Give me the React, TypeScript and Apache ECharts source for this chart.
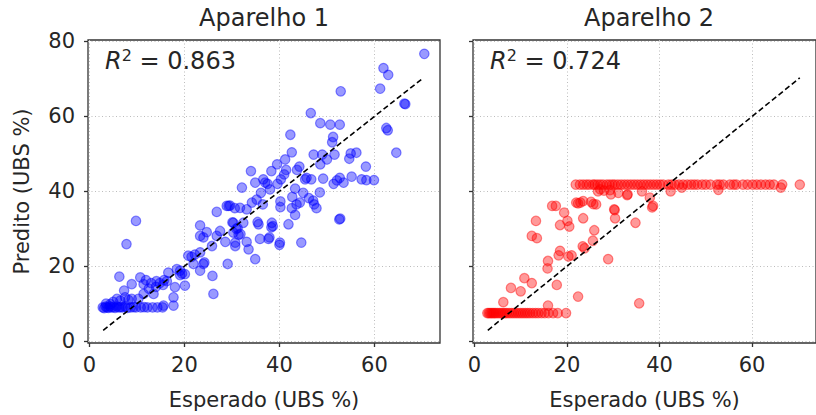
import React, { useEffect, useRef } from "react";
import * as echarts from "echarts";

const titles = ["Aparelho 1", "Aparelho 2"];
const r2Values = ["0.863", "0.724"];
const xAxisName = "Esperado (UBS %)";
const yAxisName = "Predito (UBS %)";
const xTicks = [0, 20, 40, 60];
const yTicks = [0, 20, 40, 60, 80];
const identityLine = [
  [2.9, 2.9],
  [70.3, 70.3],
];

// Aparelho 1: [esperado, predito]
const aparelho1 = [
  [2.8, 9], [3.1, 8.8], [3.4, 9.2], [3.7, 9], [4, 8.9], [4.3, 9.3], [4.6, 9], [5, 9.1],
  [5.4, 8.9], [5.8, 9.2], [6.2, 9], [6.6, 9.1], [7, 9], [7.5, 9.2], [8, 8.9], [8.7, 9],
  [9.3, 9.1], [9.8, 9], [10.8, 9], [11.5, 9.1], [12.2, 9], [13.3, 9], [14.3, 9], [15.4, 9],
  [4.4, 9.9], [3.5, 10], [5, 10.5], [5.8, 11.3], [6.5, 10.8], [7.5, 11.7], [8.2, 11], [8.9, 11.3],
  [10.3, 11.3], [11.4, 12.6], [13.5, 12.6], [7.3, 13.5], [8.9, 15.2], [6.3, 17.2], [10.7, 17],
  [11.4, 15.2], [11.9, 16.3], [13, 15.5], [14.1, 16], [14.8, 15.5], [15.7, 16.3], [16.3, 16],
  [12.5, 14], [14, 14.5], [15.5, 15], [17.7, 11.7], [17.7, 9.5], [15.6, 9.5], [16.6, 18.3],
  [18, 14.4], [20.1, 14.8], [18.4, 19.2], [20.1, 17.9], [19.1, 17.6], [19.1, 18.8], [19.5, 18],
  [20.8, 22.8], [21.5, 22.5], [21.9, 20.6], [22.2, 23.1], [23.3, 23.7], [23.3, 18.8], [24, 20.6],
  [24.2, 21], [23.3, 30.9], [23.3, 28.1], [24, 27.7], [24.7, 29.1], [25.9, 17.4], [26.1, 12.6],
  [25.8, 25.4], [26.8, 28.1], [27.5, 29.4], [26.8, 34.5], [28.6, 26.5], [29.1, 20.6], [29.3, 36.1],
  [30.3, 31.6], [30.3, 29], [30.7, 26.3], [30.7, 25.4], [31.2, 30.2], [31.4, 28.4], [31.7, 35.6],
  [32.4, 31.6], [33.1, 35.2], [33.1, 26.5], [33.5, 24.5], [34.9, 21.9], [35.6, 31.2], [35.9, 27.3],
  [37.9, 27.7], [38.4, 31.6], [38.6, 30.7], [40.1, 26.3], [41.9, 31.2], [44.6, 26.3], [52.6, 32.5],
  [9.8, 32.1], [7.8, 25.9],
  [28.9, 36.1], [29.6, 36.2], [30.1, 31.7], [30.6, 35.5], [30.9, 30], [31.8, 28.6], [32.1, 41],
  [34, 45.4], [34.2, 37], [34.9, 42.3], [35.4, 31.8], [36.1, 39.6], [36.6, 43.2], [37, 42.3],
  [37.5, 42], [37.7, 27.3], [38, 40.5], [38.3, 45.4], [38.3, 30.4], [39.5, 47.2], [39.6, 42],
  [40, 25.7], [40.2, 35.8], [40.3, 43.2], [41, 44.5], [41.2, 48.5], [41.4, 45.7], [42.3, 55.1],
  [42.6, 50.4], [42.6, 35.5], [43.3, 33.7], [43.3, 40.7], [43.7, 45.7], [44.2, 46.6], [44.3, 37],
  [45, 39.6], [45.4, 43.2], [45.7, 43.6], [46.6, 60.9], [46.7, 43.2], [47.1, 37.5], [47.2, 49.8],
  [47.8, 35.5], [48.5, 39.7], [48.6, 47.2], [48.6, 58.2], [49, 49.8], [49.2, 43.4], [50, 48.5],
  [50.7, 57.8], [51.1, 53.1], [51.3, 54.5], [51.4, 42], [51.6, 49.8], [52.1, 42.9], [52.7, 57.8],
  [52.7, 43.6], [52.8, 32.7], [53.5, 42.3], [54.7, 48.7], [55, 50.1], [55.2, 43.9], [56.2, 50.3],
  [57.3, 43.2], [58.2, 46.6], [58.3, 43], [59.9, 43], [62.5, 56.9], [62.8, 56.3], [64.6, 50.3],
  [66.3, 63.4], [66.5, 63.3], [70.5, 76.7], [61.9, 72.9], [62.9, 71.1], [61.2, 67.4], [52.9, 66.7],
  [35.2, 37.8], [36.5, 36.5], [40.2, 37.3], [42.7, 38.5], [43.6, 36.5], [46.2, 38.2], [47.3, 36.5],
];

// Aparelho 2: [esperado, predito]
const aparelho2 = [
  [2.8, 7.5], [3.1, 7.5], [3.4, 7.5], [3.7, 7.5], [4, 7.5], [4.3, 7.5], [4.6, 7.5], [5, 7.5],
  [5.4, 7.5], [5.8, 7.5], [6.2, 7.5], [6.6, 7.5], [7, 7.5], [7.5, 7.5], [8, 7.5], [8.5, 7.5],
  [9, 7.5], [9.5, 7.5], [10, 7.5], [10.5, 7.5], [11, 7.5], [11.5, 7.5], [12, 7.5], [12.6, 7.5],
  [13.2, 7.5], [13.8, 7.5], [14.5, 7.5], [15.2, 7.5], [16, 7.5], [17, 7.5], [18, 7.5], [19.8, 7.5],
  [6.25, 10.4], [7.9, 14.2], [10, 13.3], [10.8, 16.8], [12.4, 15.5], [15.9, 9.5], [17.8, 15],
  [15.9, 21.4], [15.8, 19.4], [18.2, 22.9], [18.5, 24.1], [20.3, 22.6], [21, 22.9], [22.4, 11.9],
  [12.4, 28.1], [13.5, 27.5], [13.3, 32.1], [16.8, 36.1], [17.6, 36.1], [18.5, 31], [19.4, 34.3],
  [20.1, 32.1], [20.5, 30.6], [22.4, 36.8], [23.5, 37.4], [23.5, 32.8], [23.4, 25.3], [23.8, 24.8],
  [25.2, 37.2], [26.3, 36.5], [25.9, 29.6], [25.6, 26.8], [28.9, 21.9], [30.2, 35.2], [30.4, 32.8],
  [29.5, 39.2], [31.1, 39.6], [33.1, 39.2], [34.8, 31.6], [35.6, 10.1], [37.9, 38.3], [38.6, 36.1],
  [36.2, 40], [26.7, 40], [28, 40.2], [42.4, 40], [44.8, 41], [22, 37], [25.7, 36.6], [30.3, 35],
  [38.4, 35.7], [33, 39], [27.2, 40.5], [29.3, 40.3], [52.7, 40.4], [66.2, 41], [22.9, 37],
  [21.9, 41.8], [24.2, 41.8], [25.6, 41.8], [27.2, 41.8], [28.6, 41.8], [30.3, 41.8], [31.7, 41.8],
  [33.1, 41.8], [34.5, 41.8], [35.9, 41.8], [37.3, 41.8], [38.7, 41.8], [40.1, 41.8], [41.9, 41.8],
  [43.3, 41.8], [45.1, 41.8], [46.8, 41.8], [48.2, 41.8], [50, 41.8], [51, 41.8], [52.4, 41.8],
  [53.8, 41.8], [55.2, 41.8], [56.6, 41.8], [58, 41.8], [60.1, 41.8], [61.9, 41.8], [62.9, 41.8],
  [64.7, 41.8], [66.5, 41.8], [70.3, 41.8],
  [22.8, 41.8], [23.5, 41.8], [24.8, 41.8], [26, 41.8], [26.6, 41.8], [27.8, 41.8], [29.2, 41.8],
  [29.8, 41.8], [31, 41.8], [32.4, 41.8], [33.8, 41.8], [35.2, 41.8], [36.6, 41.8], [38, 41.8],
  [39.4, 41.8], [40.8, 41.8], [42.6, 41.8], [44.2, 41.8], [46, 41.8], [47.5, 41.8], [49.2, 41.8],
  [53, 41.8], [56, 41.8], [59, 41.8], [61, 41.8], [63.8, 41.8],
];

const FONT = "DejaVu Sans";
const TEXT = "#262626";
const SPINE = "#333333";

export default function App() {
  const ref = useRef<HTMLDivElement>(null);

  useEffect(() => {
    document.body.style.margin = "0";
    if (!ref.current) return;
    const chart = echarts.init(ref.current, null, { renderer: "svg" });

    const grids = [0, 1].map((i) => ({
      left: i === 0 ? 88 : 473,
      top: 40,
      width: 352,
      height: 304,
      show: true,
      borderColor: SPINE,
      borderWidth: 1.3,
      backgroundColor: "transparent",
    }));

    const xAxes = [0, 1].map((i) => ({
      type: "value",
      gridIndex: i,
      min: -0.3,
      max: 73.8,
      name: xAxisName,
      nameLocation: "middle",
      nameGap: 46,
      nameTextStyle: { fontSize: 21, color: TEXT, fontFamily: FONT },
      axisLine: { show: false, onZero: false },
      axisTick: { show: true, length: 4, lineStyle: { color: SPINE, width: 1.3 }, customValues: xTicks },
      axisLabel: { customValues: xTicks, fontSize: 21, color: TEXT, fontFamily: FONT, margin: 11 },
      splitLine: { show: true, lineStyle: { type: [1, 2.5], color: "#bdbdbd", width: 1 } },
    }));

    const yAxes = [0, 1].map((i) => ({
      type: "value",
      gridIndex: i,
      min: -0.5,
      max: 80.4,
      name: i === 0 ? yAxisName : "",
      nameLocation: "middle",
      nameGap: 56,
      nameTextStyle: { fontSize: 21, color: TEXT, fontFamily: FONT },
      axisLine: { show: false, onZero: false },
      axisTick: { show: true, length: 4, lineStyle: { color: SPINE, width: 1.3 }, customValues: yTicks },
      axisLabel: { show: i === 0, customValues: yTicks, fontSize: 21, color: TEXT, fontFamily: FONT, margin: 13 },
      splitLine: { show: true, lineStyle: { type: [1, 2.5], color: "#bdbdbd", width: 1 } },
    }));

    const colors = ["0,0,255", "255,0,0"];
    const datasets = [aparelho1, aparelho2];

    const series: any[] = [];
    [0, 1].forEach((i) => {
      series.push({
        type: "scatter",
        xAxisIndex: i,
        yAxisIndex: i,
        data: datasets[i],
        symbolSize: 9.5,
        itemStyle: {
          color: `rgba(${colors[i]},0.5)`,
          borderColor: `rgba(${colors[i]},0.55)`,
          borderWidth: 1.2,
        },
        z: 2,
      });
      series.push({
        type: "line",
        xAxisIndex: i,
        yAxisIndex: i,
        data: identityLine,
        symbol: "none",
        lineStyle: { color: "#000", width: 1.6, type: [5.5, 3] },
        z: 3,
      });
    });

    const graphic: any[] = [];
    [0, 1].forEach((i) => {
      const left = i === 0 ? 88 : 473;
      graphic.push({
        type: "text",
        x: left + 176,
        y: 6,
        style: {
          text: titles[i],
          align: "center",
          textAlign: "center",
          fontSize: 24,
          fontFamily: FONT,
          fill: TEXT,
        },
      });
      graphic.push({
        type: "text",
        x: left + 17,
        y: 47,
        z: 10,
        style: {
          text: `{i|R}{s|2}{n| = ${r2Values[i]}}`,
          fill: TEXT,
          fontFamily: FONT,
          fontSize: 24,
          rich: {
            i: { fontStyle: "italic", fontSize: 24, fontFamily: FONT, fill: TEXT, lineHeight: 28 },
            s: { fontSize: 16, fontFamily: FONT, fill: TEXT, verticalAlign: "top", lineHeight: 26 },
            n: { fontSize: 24, fontFamily: FONT, fill: TEXT, lineHeight: 28 },
          },
        },
      });
    });

    chart.setOption({
      animation: false,
      backgroundColor: "#ffffff",
      grid: grids,
      xAxis: xAxes,
      yAxis: yAxes,
      series,
      graphic,
    });

    return () => chart.dispose();
  }, []);

  return <div ref={ref} style={{ width: 816, height: 415 }} />;
}
